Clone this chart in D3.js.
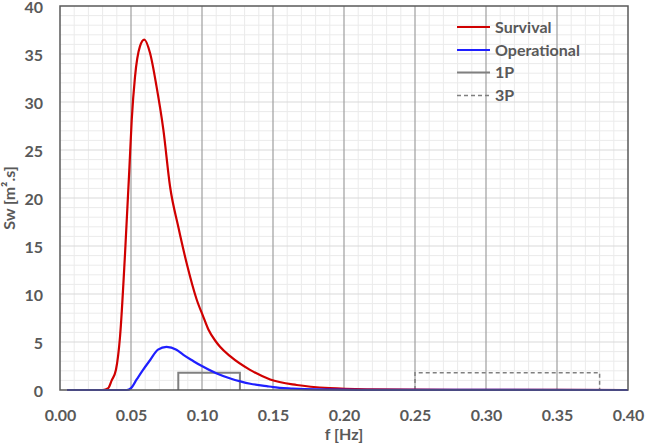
<!DOCTYPE html>
<html>
<head>
<meta charset="utf-8">
<script src="https://cdn.jsdelivr.net/npm/d3@7"></script>
<style>
  html, body { margin: 0; padding: 0; background: #fff; }
  svg { display: block; }
  text { font-family: Lato, "Open Sans", sans-serif; font-weight: 700; fill: #595959; }
</style>
</head>
<body>
<svg id="chart" width="646" height="444"></svg>
<script>
// ---- data ----
const survivalF = [0.005, 0.030, 0.034, 0.0364, 0.0394, 0.0423, 0.0458, 0.0488, 0.0505, 0.0528, 0.0563, 0.0594, 0.0634, 0.068, 0.0728, 0.0775, 0.0833, 0.0892, 0.0963, 0.101, 0.1045, 0.110, 0.1127, 0.120, 0.1338, 0.148, 0.1667, 0.190, 0.220, 0.250, 0.300, 0.400];
const survivalS = [0, 0, 0.2, 1.0, 2.1, 5.6, 14.2, 22.9, 28.1, 32.6, 35.8, 36.5, 35.1, 31.6, 27.1, 21.2, 17.0, 13.2, 9.4, 7.6, 6.3, 5.0, 4.5, 3.5, 2.1, 1.1, 0.52, 0.2, 0.07, 0.03, 0.01, 0];

const operationalF = [0.005, 0.047, 0.050, 0.054, 0.058, 0.0634, 0.069, 0.075, 0.082, 0.0869, 0.094, 0.0986, 0.110, 0.120, 0.127, 0.134, 0.1456, 0.150, 0.164, 0.180, 0.210, 0.250, 0.400];
const operationalS = [0, 0, 0.2, 1.1, 2.0, 3.1, 4.2, 4.5, 4.2, 3.65, 3.0, 2.6, 1.75, 1.2, 0.9, 0.65, 0.4, 0.3, 0.15, 0.06, 0.02, 0.01, 0];

const band1P = [0.0833, 0.1267];
const band3P = [0.25, 0.38];
const bandHeight = 1.8;

const xTicks = [0, 0.05, 0.10, 0.15, 0.20, 0.25, 0.30, 0.35, 0.40];
const yTicks = [0, 5, 10, 15, 20, 25, 30, 35, 40];
const xMinor = d3.range(0, 41).map(d => d / 100);
const yMinor = d3.range(0, 41);

const legendLabels = ["Survival", "Operational", "1P", "3P"];

// ---- layout ----
const svg = d3.select("#chart");
const L = 60, R = 628, T = 6, B = 390;
const x = d3.scaleLinear().domain([0, 0.4]).range([L, R]);
const y = d3.scaleLinear().domain([0, 40]).range([B, T]);

svg.append("rect").attr("width", 646).attr("height", 444).attr("fill", "#fff");

// minor grid
const g = svg.append("g");
g.selectAll(".vmin").data(xMinor.filter(d => Math.round(d * 100) % 5 !== 0)).join("line")
  .attr("x1", d => x(d)).attr("x2", d => x(d)).attr("y1", T).attr("y2", B)
  .attr("stroke", "#ebebeb").attr("stroke-width", 1);
g.selectAll(".hmin").data(yMinor.filter(d => d % 5 !== 0)).join("line")
  .attr("x1", L).attr("x2", R).attr("y1", d => y(d)).attr("y2", d => y(d))
  .attr("stroke", "#ebebeb").attr("stroke-width", 1);
// major grid
g.selectAll(".hmaj").data(yTicks.slice(1, -1)).join("line")
  .attr("x1", L).attr("x2", R).attr("y1", d => y(d)).attr("y2", d => y(d))
  .attr("stroke", "#d9d9d9").attr("stroke-width", 1.2);
g.selectAll(".vmaj").data(xTicks.slice(1, -1)).join("line")
  .attr("x1", d => x(d)).attr("x2", d => x(d)).attr("y1", T).attr("y2", B)
  .attr("stroke", "#a6a6a6").attr("stroke-width", 1.3);

// axes
const xAxis = d3.axisBottom(x).tickValues(xTicks).tickFormat(d3.format(".2f")).tickSize(0).tickPadding(20);
const gx = svg.append("g").attr("transform", `translate(0,${B})`).call(xAxis);
gx.select(".domain").remove();
gx.selectAll("text").style("font-size", "16px").attr("fill", "#595959");

const yAxis = d3.axisLeft(y).tickValues(yTicks).tickFormat(d3.format("d")).tickSize(0).tickPadding(17);
const gy = svg.append("g").attr("transform", `translate(${L},0)`).call(yAxis);
gy.select(".domain").remove();
gy.selectAll("text").style("font-size", "16px").attr("fill", "#595959").attr("dy", "0.42em");

// axis titles
svg.append("text").attr("x", (L + R) / 2).attr("y", 440).attr("text-anchor", "middle")
  .style("font-size", "16px").text("f [Hz]");
svg.append("text").attr("transform", `translate(15,${(T + B) / 2}) rotate(-90)`)
  .attr("text-anchor", "middle").style("font-size", "16px").text("Sw [m².s]");

// bands 1P / 3P
const bandPath = b => d3.line()([[x(b[0]), y(0)], [x(b[0]), y(bandHeight)], [x(b[1]), y(bandHeight)], [x(b[1]), y(0)]]);
svg.append("path").attr("d", bandPath(band1P)).attr("fill", "none")
  .attr("stroke", "#808080").attr("stroke-width", 2);
svg.append("path").attr("d", bandPath(band3P)).attr("fill", "none")
  .attr("stroke", "#808080").attr("stroke-width", 1.5).attr("stroke-dasharray", "4,3");

// curves
const line = d3.line().x(d => x(d[0])).y(d => y(d[1])).curve(d3.curveMonotoneX);
svg.append("path").datum(d3.zip(survivalF, survivalS)).attr("d", line)
  .attr("fill", "none").attr("stroke", "#d00000").attr("stroke-width", 2.2);
svg.append("path").datum(d3.zip(operationalF, operationalS)).attr("d", line)
  .attr("fill", "none").attr("stroke", "#1f1fff").attr("stroke-width", 2.2);

// frame
svg.append("rect").attr("x", L).attr("y", T).attr("width", R - L).attr("height", B - T)
  .attr("fill", "none").attr("stroke", "#595959").attr("stroke-width", 1.5);

// legend
const legStyles = [
  { c: "#d00000", w: 2.2, dash: null },
  { c: "#1f1fff", w: 2.2, dash: null },
  { c: "#808080", w: 2, dash: null },
  { c: "#808080", w: 1.5, dash: "4,3" }
];
const legY = [27, 50, 72.5, 95.5];
legendLabels.forEach((lab, i) => {
  const s = legStyles[i];
  svg.append("line").attr("x1", 457).attr("x2", 490).attr("y1", legY[i]).attr("y2", legY[i])
    .attr("stroke", s.c).attr("stroke-width", s.w).attr("stroke-dasharray", s.dash);
  svg.append("text").attr("x", 495).attr("y", legY[i]).attr("dy", "0.36em")
    .style("font-size", "16px").text(lab);
});
</script>
</body>
</html>
